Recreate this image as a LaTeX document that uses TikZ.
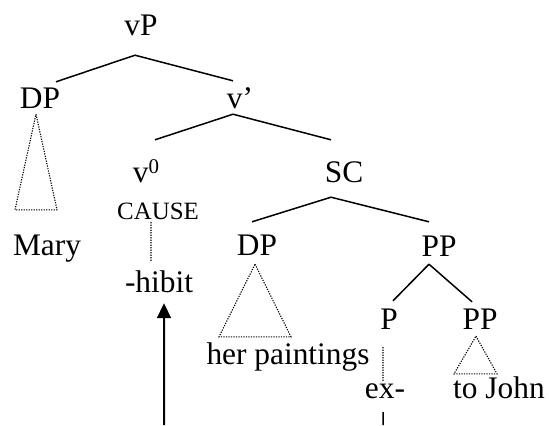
\documentclass[tikz,border=0pt]{standalone}
\usepackage{fontspec}
\setmainfont{Liberation Serif}
\usepackage{tikz}
\usetikzlibrary{arrows.meta}

\begin{document}
\begin{tikzpicture}[x=1bp,y=-1bp,
		lbl/.style={font=\fontsize{31.5}{36}\selectfont, inner sep=0pt, anchor=base},
		branch/.style={line width=1.5bp},
		roof/.style={line width=1.1bp, dash pattern=on 1.2bp off 1.3bp},
		move/.style={line width=2bp, -{Triangle[length=15bp,width=14bp]}}]
			\useasboundingbox (0,0) rectangle (549,425);
			% labels
			\node[lbl, text depth=20bp] (vP) at (141,35) {vP};
			\node[lbl, text height=26bp, text depth=6bp] (DP) at (40,108) {DP};
			\node[lbl, text height=27bp, text depth=6bp] (vbar) at (240,108) {v'};
			\node[lbl, text height=42bp] (v0) at (146,182) {v{\fontsize{21}{21}\selectfont\raisebox{9bp}{0}}};
			\node[lbl, font=\fontsize{25}{28}\selectfont, text depth=3bp] (cause) at (158,219) {CAUSE};
			\node[lbl, text height=31bp, text depth=11bp] (hibit) at (159,292) {-hibit};
			\node[lbl, text height=45bp] (mary) at (47,255) {Mary};
			\node[lbl, text height=42bp, text depth=15bp] (SC) at (344,182) {SC};
			\node[lbl, text height=33bp, text depth=9bp] (DPb) at (257,255) {DP};
			\node[lbl, text height=34bp, text depth=8bp] (PP) at (439,256) {PP};
			\node[lbl, text height=27bp] (paint) at (288,364) {her paintings};
			\node[lbl, text height=28bp, text depth=18bp] (P) at (389,329) {P};
			\node[lbl, text height=27bp, text depth=7bp] (PPb) at (480,329) {PP};
			\node[lbl, text height=16bp, text depth=14bp] (ex) at (385,398) {ex-};
			\node[lbl, text height=24bp] (john) at (499,398) {to John};
			\coordinate (hfoot) at (164,425);
			\coordinate (efoot) at (383,425);
			% branches
			\draw[branch] ([xshift=-6bp]vP.south) -- ([xshift=16bp]DP.north);
			\draw[branch] ([xshift=-6bp]vP.south) -- ([xshift=-7bp]vbar.north);
			\draw[branch] ([xshift=-7bp]vbar.south) -- ([xshift=9bp]v0.north);
			\draw[branch] ([xshift=-7bp]vbar.south) -- ([xshift=-13bp]SC.north);
			\draw[branch] ([xshift=-13bp]SC.south) -- ([xshift=-5bp]DPb.north);
			\draw[branch] ([xshift=-13bp]SC.south) -- ([xshift=-10bp]PP.north);
			\draw[branch] ([xshift=-10bp]PP.south) -- ([xshift=4bp]P.north);
			\draw[branch] ([xshift=-10bp]PP.south) -- ([xshift=-8bp]PPb.north);
			% roofs
			\draw[roof] ([xshift=-4bp]DP.south) -- ([xshift=10bp]mary.north) -- ([xshift=-32bp]mary.north) -- cycle;
			\draw[roof] ([xshift=-2bp]DPb.south) -- ([xshift=3bp]paint.north) -- ([xshift=-69bp]paint.north) -- cycle;
			\draw[roof] ([xshift=-4bp]PPb.south) -- ([xshift=-2bp]john.north) -- ([xshift=-45bp]john.north) -- cycle;
			% spell-out and movement
			\draw[roof] ([xshift=-7bp]cause.south) -- ([xshift=-8bp]hibit.north);
			\draw[roof] ([xshift=-6bp]P.south) -- ([xshift=-2bp]ex.north);
			\draw[branch] ([xshift=-2bp]ex.south) -- (efoot);
			\draw[move] (hfoot) -- ([xshift=5bp]hibit.south);
		\end{tikzpicture}
\end{document}
